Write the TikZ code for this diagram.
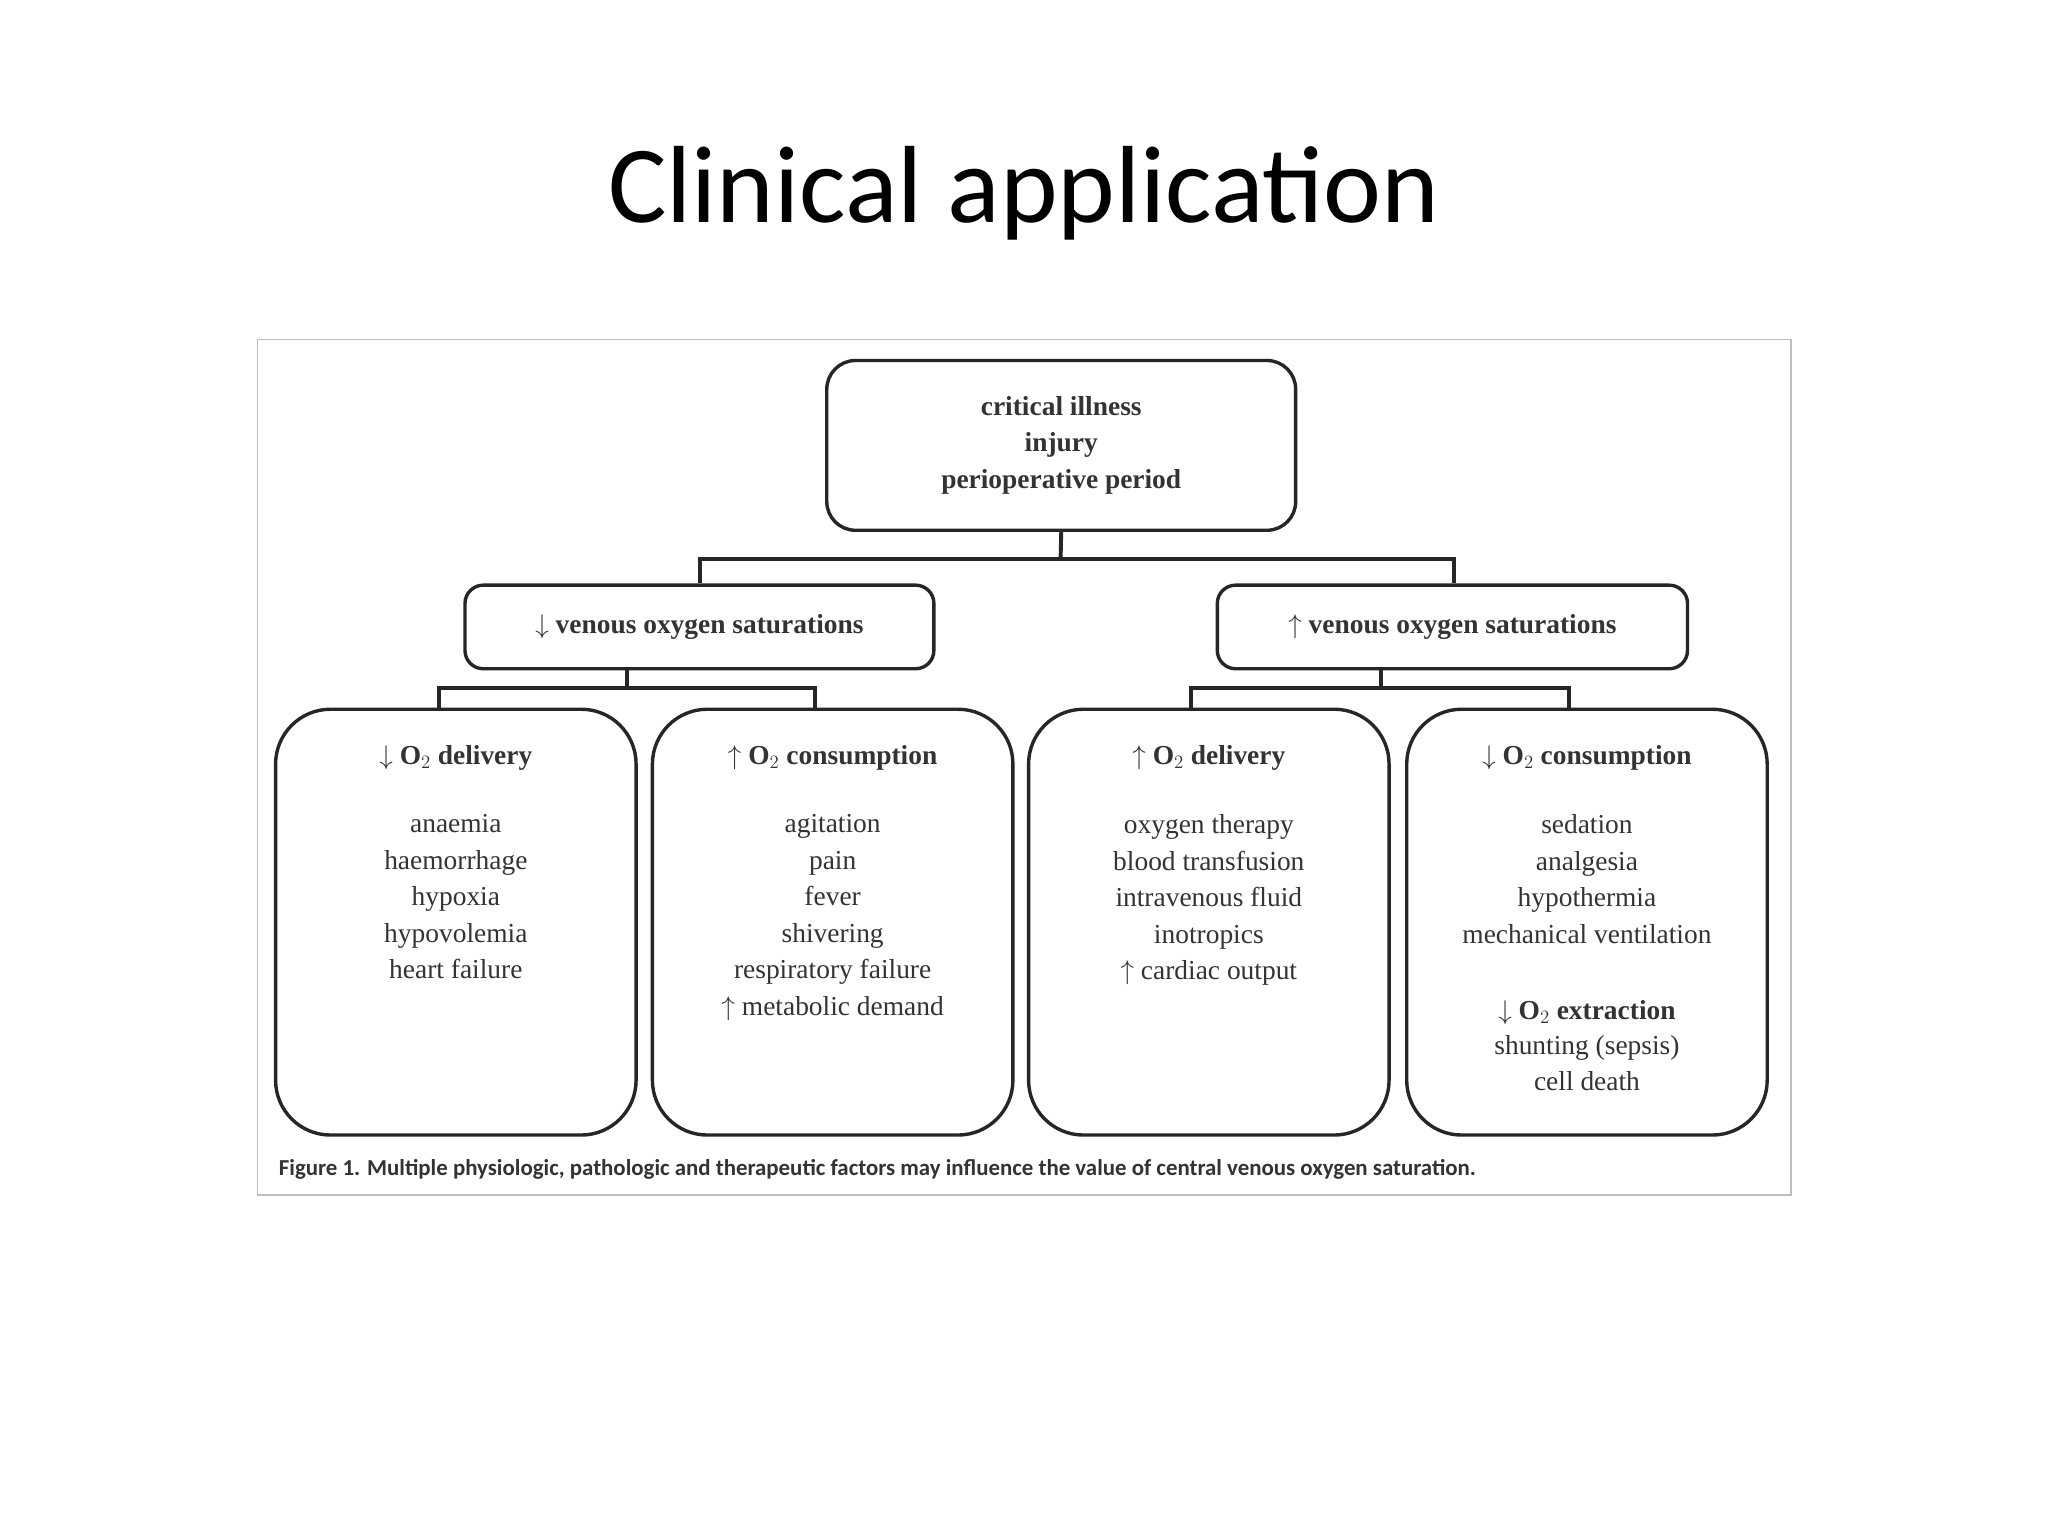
\documentclass[tikz,border=0pt]{standalone}
\usepackage{fontspec}
\setmainfont{Liberation Serif}
\newfontfamily\titlefont{Carlito}
\newfontfamily\capfont{Carlito}
\begin{document}
\begin{tikzpicture}[x=1pt,y=-1pt,
  box/.style={draw=black!85,line width=2.6pt,rounded corners=#1,inner sep=0pt},
  box/.default=14pt,
  conn/.style={draw=black!85,line width=3pt},
  hd/.style={font=\fontsize{21}{27}\selectfont\bfseries,align=center,text=black!80},
  lst/.style={font=\fontsize{21}{28}\selectfont,align=center,text=black!80,anchor=north}]
\useasboundingbox[fill=white] (0,0) rectangle (1568,1176);
\node[font=\titlefont\fontsize{84}{90}\selectfont] (title) at (784,148) {Clinical application};
\draw[black!25,line width=1.2pt] (197,260) rectangle (1371,915);
\node[box=22pt,minimum width=359pt,minimum height=130pt] (top) at (812.5,341) {};
\node[hd,font=\fontsize{21}{28}\selectfont\bfseries] at (top) {critical illness\\injury\\perioperative period};
\node[box,minimum width=359pt,minimum height=64pt] (lm) at (535.5,480) {};
\node[hd] at (lm) {$\downarrow$ venous oxygen saturations};
\node[box,minimum width=360pt,minimum height=64pt] (rm) at (1112,480) {};
\node[hd] at (rm) {$\uparrow$ venous oxygen saturations};
\coordinate (j1) at (812,428);
\draw[conn] (top.south) -- (j1);
\draw[conn] (lm.north -| 536,0) |- (j1) -| (rm.north -| 1113,0);
\foreach \n/\x in {b1/349,b2/637.5,b3/925.5,b4/1215}
  \node[box=42pt,minimum width=276pt,minimum height=326pt] (\n) at (\x,706) {};
\coordinate (j2) at (480,527);
\coordinate (j3) at (1057,527);
\draw[conn] (lm.south -| j2) -- (j2);
\draw[conn] (b1.north -| 336,0) |- (j2) -| (b2.north -| 624,0);
\draw[conn] (rm.south -| j3) -- (j3);
\draw[conn] (b3.north -| 912,0) |- (j3) -| (b4.north -| 1201,0);
\node[hd] at (349,580) {$\downarrow$ O$_2$ delivery};
\node[hd] at (637.5,580) {$\uparrow$ O$_2$ consumption};
\node[hd] at (925.5,580) {$\uparrow$ O$_2$ delivery};
\node[hd] at (1215,580) {$\downarrow$ O$_2$ consumption};
\node[lst] at (349,620) {anaemia\\haemorrhage\\hypoxia\\hypovolemia\\heart failure};
\node[lst] at (637.5,620) {agitation\\pain\\fever\\shivering\\respiratory failure\\$\uparrow$ metabolic demand};
\node[lst] at (925.5,620) {oxygen therapy\\blood transfusion\\intravenous fluid\\inotropics\\$\uparrow$ cardiac output};
\node[lst] at (1215,620) {sedation\\analgesia\\hypothermia\\mechanical ventilation};
\node[hd] at (1215,775) {$\downarrow$ O$_2$ extraction};
\node[lst] at (1215,789) {shunting (sepsis)\\cell death};
\node[anchor=west,font=\capfont\fontsize{17.5}{20}\selectfont\bfseries,text=black!80] (cap) at (210,895) {Figure 1. Multiple physiologic, pathologic and therapeutic factors may influence the value of central venous oxygen saturation.};
\end{tikzpicture}
\end{document}
